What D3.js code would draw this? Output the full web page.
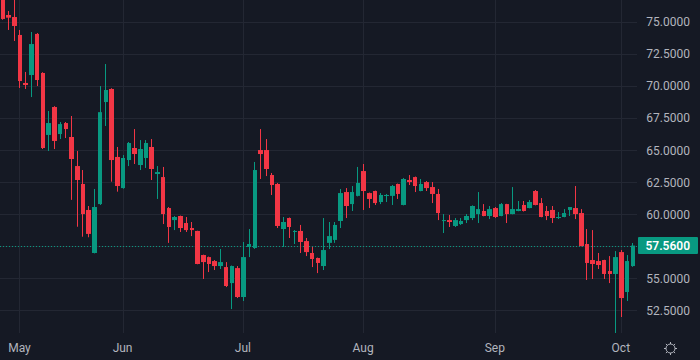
<!DOCTYPE html>
<html>
<head>
<meta charset="utf-8">
<script src="https://cdn.jsdelivr.net/npm/d3@7"></script>
<style>
  html, body { margin: 0; padding: 0; background: #151924; }
  svg { display: block; }
</style>
</head>
<body>
<svg id="chart" width="700" height="360"></svg>
<script>
// ---- data (daily candles) ----
const opens  = [76.90,75.57,75.41,74.01,70.26,70.88,74.09,71.04,66.20,68.38,66.27,67.13,66.04,63.77,62.37,60.34,56.98,60.80,68.77,69.79,
                64.48,62.05,64.24,65.18,63.85,64.40,65.26,63.15,62.91,60.49,59.55,59.87,59.32,58.93,58.70,56.82,56.66,56.35,55.96,55.88,
                54.63,55.80,53.54,57.45,57.37,65.02,65.02,63.07,62.37,58.85,59.71,58.62,58.70,57.91,56.98,56.59,55.96,57.77,58.00,59.48,
                61.74,60.80,61.44,63.38,61.66,61.82,60.96,61.44,61.44,62.37,60.73,62.68,62.91,61.82,62.52,62.13,61.59,59.48,59.55,59.09,
                59.24,59.55,59.71,60.02,60.26,59.87,60.49,59.87,60.80,60.02,60.26,60.73,60.49,61.82,60.88,60.26,60.34,59.71,59.79,60.34,
                60.49,60.10,57.68,56.43,56.35,56.43,55.57,55.34,57.05,53.93,55.96];
const highs  = [77.30,75.88,77.00,74.40,71.12,74.24,74.16,71.10,68.07,68.45,67.21,67.21,67.68,64.95,63.46,60.65,61.98,70.02,71.74,69.85,
                65.26,64.63,65.65,66.66,65.80,65.80,65.88,63.77,63.70,60.57,59.87,59.90,59.79,59.40,58.72,56.85,56.70,56.43,57.29,56.27,
                56.00,55.96,57.84,58.85,64.09,66.66,65.88,63.23,62.45,59.79,59.75,58.77,59.17,58.15,57.45,56.62,59.71,59.40,59.40,61.98,
                62.05,62.21,63.70,63.93,61.70,61.85,61.66,61.59,62.29,62.40,62.84,63.07,62.95,62.76,62.60,62.52,61.98,60.02,59.95,59.71,
                59.71,60.02,60.70,61.74,60.80,60.65,60.57,60.88,60.82,62.13,61.04,61.04,61.12,61.90,61.27,60.65,60.65,60.18,60.41,60.57,
                62.21,60.41,58.85,58.77,56.98,56.45,56.74,57.13,57.21,56.82,57.76];
const lows   = [75.20,74.40,73.54,69.87,69.79,69.16,70.02,65.10,64.95,65.10,65.88,65.96,61.13,59.03,58.25,58.21,56.95,60.73,66.90,62.55,
                61.77,62.00,63.77,63.93,63.46,63.62,62.68,61.20,59.24,57.77,58.77,58.62,58.62,58.30,56.10,54.95,55.49,55.65,55.73,54.32,
                52.60,53.46,53.23,56.66,57.30,62.76,62.99,61.51,58.93,57.45,58.15,57.68,56.98,56.74,55.88,55.41,55.65,57.29,57.77,58.93,
                59.71,60.26,61.40,60.34,60.49,60.73,60.80,60.96,60.73,61.20,60.70,62.29,61.74,61.80,61.82,60.88,59.55,58.54,59.01,59.01,
                59.17,59.32,59.55,59.32,59.85,59.63,59.71,59.85,59.32,60.00,60.24,60.22,60.47,60.70,59.77,59.55,59.32,59.63,59.77,59.87,
                59.63,57.50,54.87,54.95,55.73,54.95,54.63,50.60,51.98,53.23,55.90];
const closes = [75.26,75.36,74.71,70.41,70.10,73.30,70.49,65.18,67.13,65.73,67.05,66.66,64.32,62.68,60.02,58.47,60.57,67.98,69.71,64.24,
                62.21,64.40,65.57,64.71,65.10,65.57,63.54,63.30,60.02,59.01,59.79,58.93,58.77,58.77,56.12,56.27,56.12,55.96,56.27,54.40,
                55.96,53.54,56.66,57.68,63.46,64.71,63.54,62.29,59.09,59.40,59.01,58.70,57.84,57.05,56.51,56.20,57.21,58.30,59.17,61.66,
                60.65,61.74,62.45,61.82,61.20,60.88,61.51,61.51,62.21,61.59,62.76,62.52,62.21,62.37,62.05,61.59,60.10,59.55,59.40,59.55,
                59.48,59.87,60.65,60.41,59.87,60.41,59.79,60.80,60.02,60.41,60.41,60.26,60.96,60.73,59.79,59.87,59.71,59.79,60.10,60.57,
                60.02,57.52,56.20,56.12,56.04,55.34,55.34,56.66,53.46,56.35,57.56];
const monthLabels   = ["May", "Jun", "Jul", "Aug", "Sep", "Oct"];
const monthFirstBar = [3, 21, 42, 63, 86, 108];
const priceTicks    = [52.5, 55, 60, 62.5, 65, 67.5, 70, 72.5, 75];
const gridTicks     = [52.5, 55, 57.5, 60, 62.5, 65, 67.5, 70, 72.5, 75];
const lastPrice     = 57.56;

// ---- layout ----
const W = 700, H = 360;
const plotRight = 637, plotBottom = 333;
const UP = "#089981", DOWN = "#F23645";
const TEXT = "#B2B5BE", GRID = "#232733";

const candles = opens.map((o, i) => ({ i, o, h: highs[i], l: lows[i], c: closes[i] }));

const x = d3.scaleLinear().domain([0, candles.length - 1]).range([2.3, 632.3]);
const y = d3.scaleLinear().domain([50.73, 76.74]).range([plotBottom, 0]);

const svg = d3.select("#chart");
svg.append("rect").attr("width", W).attr("height", H).attr("fill", "#151924");

svg.append("defs").append("clipPath").attr("id", "plotclip")
  .append("rect").attr("x", 0).attr("y", 0).attr("width", plotRight).attr("height", plotBottom);

// grid
const grid = svg.append("g");
grid.selectAll("line.h").data(gridTicks).join("line")
  .attr("x1", 0).attr("x2", plotRight)
  .attr("y1", d => Math.round(y(d)) + 0.5).attr("y2", d => Math.round(y(d)) + 0.5)
  .attr("stroke", GRID).attr("stroke-width", 1);
grid.selectAll("line.v").data(monthFirstBar).join("line")
  .attr("x1", d => Math.round(x(d)) + 0.5).attr("x2", d => Math.round(x(d)) + 0.5)
  .attr("y1", 0).attr("y2", plotBottom)
  .attr("stroke", GRID).attr("stroke-width", 1);

// last price dotted line
svg.append("line")
  .attr("x1", 0).attr("x2", plotRight)
  .attr("y1", Math.round(y(lastPrice)) + 0.5).attr("y2", Math.round(y(lastPrice)) + 0.5)
  .attr("stroke", UP).attr("stroke-width", 1).attr("stroke-dasharray", "1,2");

// candles
const plot = svg.append("g").attr("clip-path", "url(#plotclip)");
const g = plot.selectAll("g.c").data(candles).join("g");
g.append("rect")
  .attr("x", d => Math.round(x(d.i)))
  .attr("width", 1)
  .attr("y", d => y(d.h))
  .attr("height", d => Math.max(1, y(d.l) - y(d.h)))
  .attr("fill", d => d.c >= d.o ? UP : DOWN);
g.append("rect")
  .attr("x", d => Math.round(x(d.i) - 1.75))
  .attr("width", d => Math.round(x(d.i) + 1.75) - Math.round(x(d.i) - 1.75) + 1)
  .attr("y", d => y(Math.max(d.o, d.c)))
  .attr("height", d => Math.max(1, Math.abs(y(d.o) - y(d.c))))
  .attr("fill", d => d.c >= d.o ? UP : DOWN);

// price axis labels
svg.append("g").selectAll("text").data(priceTicks).join("text")
  .attr("x", 690).attr("y", d => y(d)).attr("dy", "0.35em")
  .attr("text-anchor", "end")
  .attr("font-family", "Roboto, 'Liberation Sans', sans-serif").attr("font-size", 12)
  .attr("fill", TEXT)
  .text(d => d3.format(".4f")(d));

// last price label
const ly = y(lastPrice);
svg.append("rect").attr("x", 638).attr("y", ly - 8.5).attr("width", 60).attr("height", 17)
  .attr("rx", 1).attr("fill", UP);
svg.append("text").attr("x", 690).attr("y", ly).attr("dy", "0.35em")
  .attr("text-anchor", "end")
  .attr("font-family", "Roboto, 'Liberation Sans', sans-serif").attr("font-size", 12)
  .attr("font-weight", 600)
  .attr("fill", "#FFFFFF").text(d3.format(".4f")(lastPrice));

// month labels
svg.append("g").selectAll("text").data(monthLabels).join("text")
  .attr("x", (d, k) => x(monthFirstBar[k])).attr("y", 348).attr("dy", "0.35em")
  .attr("text-anchor", "middle")
  .attr("font-family", "Roboto, 'Liberation Sans', sans-serif").attr("font-size", 12)
  .attr("fill", TEXT).text(d => d);

// settings (sun) icon
const icon = svg.append("g").attr("transform", "translate(670.5,348.5)")
  .attr("stroke", TEXT).attr("fill", "none").attr("stroke-width", 1);
icon.append("circle").attr("r", 4.5);
d3.range(8).forEach(k => {
  const a = k * Math.PI / 4;
  icon.append("line")
    .attr("x1", Math.cos(a) * 4.5).attr("y1", Math.sin(a) * 4.5)
    .attr("x2", Math.cos(a) * 6.5).attr("y2", Math.sin(a) * 6.5);
});
</script>
</body>
</html>
